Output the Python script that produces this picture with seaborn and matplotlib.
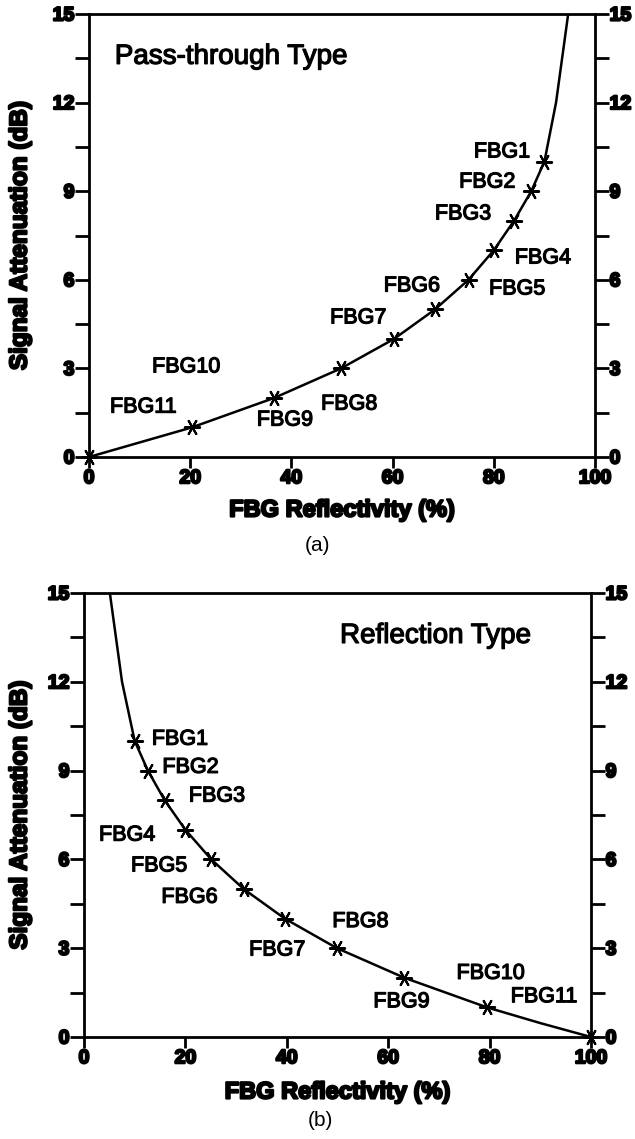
import numpy as np
import pandas as pd
import matplotlib
matplotlib.use("Agg")
import matplotlib.pyplot as plt
from matplotlib.ticker import MultipleLocator
import matplotlib.patheffects as pe
import seaborn as sns

# ---------------- data ----------------
fbg_names = ["FBG1", "FBG2", "FBG3", "FBG4", "FBG5", "FBG6",
             "FBG7", "FBG8", "FBG9", "FBG10", "FBG11"]
attenuation_db = [10, 9, 8, 7, 6, 5, 4, 3, 2, 1, 0]

# (a) pass-through type: reflectivity (%) of each grating
pass_reflectivity = [90.0, 87.4, 84.0, 80.0, 75.0, 68.4, 60.3, 49.8, 36.6, 20.3, 0.0]
# theoretical curve
pass_curve_refl = [0.0, 20.3, 36.6, 49.8, 60.3, 68.4, 75.0, 80.0, 84.0, 87.4, 90.0, 92.3, 94.7]
pass_curve_db = [0.0, 1.0, 2.0, 3.0, 4.0, 5.0, 6.0, 7.0, 8.0, 9.0, 10.0, 12.0, 15.0]

# (b) reflection type
refl_reflectivity = [10.0, 12.6, 15.9, 20.0, 25.1, 31.5, 39.6, 49.9, 63.2, 79.5, 100.0]
refl_curve_refl = [5.1, 7.5, 10.0, 12.6, 15.9, 20.0, 25.1, 31.5, 39.6, 49.9, 63.2, 79.5, 90.0, 100.0]
refl_curve_db = [15.0, 12.0, 10.0, 9.0, 8.0, 7.0, 6.0, 5.0, 4.0, 3.0, 2.0, 1.0, 0.47, 0.0]

y_ticks = [0, 3, 6, 9, 12, 15]
x_ticks = [0, 20, 40, 60, 80, 100]

# label placement (data coordinates, centre of text)
pass_label_x = [81.6, 78.7, 73.9, 89.7, 84.6, 63.8, 53.2, 51.4, 38.7, 19.2, 10.7]
pass_label_y = [10.33, 9.31, 8.23, 6.74, 5.69, 5.79, 4.71, 1.79, 1.25, 3.05, 1.69]
refl_label_x = [18.9, 21.0, 26.2, 8.5, 14.8, 20.8, 38.1, 54.5, 62.6, 80.2, 90.7]
refl_label_y = [10.06, 9.11, 8.14, 6.82, 5.78, 4.72, 2.94, 3.9, 1.19, 2.15, 1.36]

# ---------------- style ----------------
sns.set_style("ticks")
plt.rcParams["font.family"] = ["Liberation Sans", "DejaVu Sans"]
plt.rcParams["font.weight"] = "bold"
for k in ["text.color", "axes.labelcolor", "xtick.color", "ytick.color",
          "axes.edgecolor", "xtick.labelcolor", "ytick.labelcolor"]:
    plt.rcParams[k] = "black"

W, H = 635, 1139
fig = plt.figure(figsize=(W / 100, H / 100), dpi=100)

def rect(x0, x1, ytop, ybot):
    return [x0 / W, 1 - ybot / H, (x1 - x0) / W, (ybot - ytop) / H]

ax_a = fig.add_axes(rect(89, 595, 14, 457))
ax_b = fig.add_axes(rect(84, 591, 593, 1037))

ink = [pe.withStroke(linewidth=0.9, foreground="black")]
heavy = [pe.withStroke(linewidth=1.6, foreground="black")]
marker = (6, 2, 90)

def draw(ax, curve_x, curve_y, pts_x, lab_x, lab_y, title, title_x, xlab_off):
    curve = pd.DataFrame({"refl": curve_x, "db": curve_y})
    pts = pd.DataFrame({"refl": pts_x, "db": attenuation_db, "name": fbg_names})
    sns.lineplot(data=curve, x="refl", y="db", sort=False, color="black",
                 linewidth=1.8, ax=ax, zorder=3)
    sns.scatterplot(data=pts, x="refl", y="db", marker=marker, s=120,
                    color="black", edgecolor="black", linewidth=1.5,
                    ax=ax, zorder=4, clip_on=False)
    for name, lx, ly in zip(fbg_names, lab_x, lab_y):
        ax.text(lx, ly, name, ha="center", va="center", fontsize=15.5,
                fontweight="normal", color="black", path_effects=ink)
    ax.text(title_x, 13.55, title, ha="left", va="center", fontsize=20,
            fontweight="normal", color="black", path_effects=ink)

    ax.set_xlim(0, 100)
    ax.set_ylim(0, 15)
    ax.set_xticks(x_ticks)
    ax.set_yticks(y_ticks)
    ax.yaxis.set_minor_locator(MultipleLocator(1.5))
    ax.tick_params(axis="y", which="both", direction="out", length=10, width=2,
                   left=True, right=True, labelleft=True, labelright=True,
                   pad=0.5, labelsize=14, color="black", labelcolor="black")
    ax.tick_params(axis="x", which="both", direction="out", length=8, width=2,
                   bottom=True, top=False, pad=1.5, labelsize=14, color="black",
                   labelcolor="black")
    for t in ax.xaxis.get_major_ticks() + ax.yaxis.get_major_ticks():
        t.label1.set_path_effects(heavy)
        t.label2.set_path_effects(heavy)
    for s in ax.spines.values():
        s.set_visible(True)
        s.set_linewidth(2.0)
        s.set_color("black")
    ax.set_xlabel("FBG Reflectivity (%)", fontsize=17, fontweight="bold",
                  color="black")
    ax.set_ylabel("Signal Attenuation (dB)", fontsize=17.5, fontweight="bold",
                  color="black")
    ax.xaxis.label.set_path_effects(heavy)
    ax.yaxis.label.set_path_effects(heavy)
    ax.xaxis.label.set_verticalalignment("center")
    ax.yaxis.label.set_verticalalignment("center")
    ax.xaxis.set_label_coords(0.5, xlab_off)
    ax.set_facecolor("white")

draw(ax_a, pass_curve_refl, pass_curve_db, pass_reflectivity,
     pass_label_x, pass_label_y, "Pass-through Type", 5.1, -53 / 443)
ax_a.yaxis.set_label_coords((20 - 89) / 506, 0.5)
draw(ax_b, refl_curve_refl, refl_curve_db, refl_reflectivity,
     refl_label_x, refl_label_y, "Reflection Type", 50.5, -55 / 444)
ax_b.yaxis.set_label_coords((20 - 84) / 507, 0.5)

fig.text(317 / W, 1 - 546 / H, "(a)", ha="center", va="center",
         fontsize=15, fontweight="normal", color="black")
fig.text(320 / W, 1 - 1121 / H, "(b)", ha="center", va="center",
         fontsize=15, fontweight="normal", color="black")

fig.savefig("out.png", dpi=100, facecolor="white")
